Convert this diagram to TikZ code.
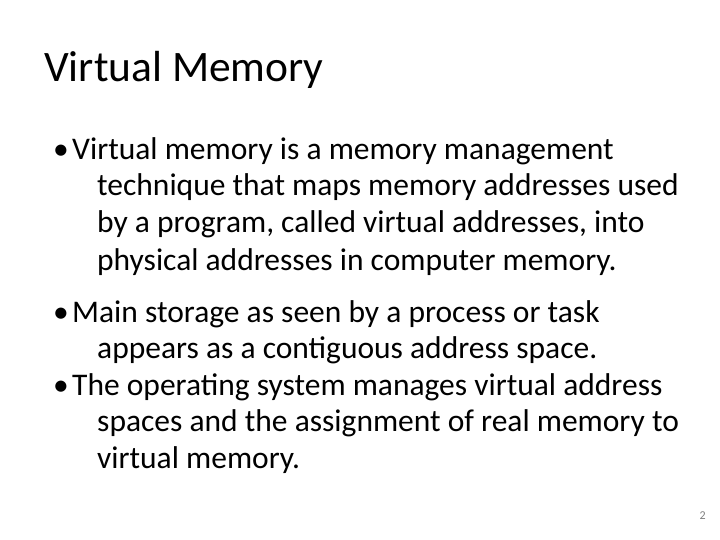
\documentclass[tikz,border=0pt]{standalone}
\usepackage{fontspec}
\setmainfont{Carlito}
\begin{document}
\begin{tikzpicture}[x=1pt,y=-1pt,
  body/.style={anchor=base west,inner sep=0pt,font=\fontsize{31.5}{33}\selectfont}]
\useasboundingbox[fill=white] (0,0) rectangle (720,540);
\node[anchor=base west,inner sep=0pt,font=\fontsize{43.5}{46}\selectfont] (title) at (44,82) {Virtual Memory};
\foreach \y/\n in {160/b1,322/b2,395/b3}{\node[body] (\n) at (53,\y) {•};}
\node[body] (l1) at (72,160) {Virtual memory is a memory management};
\node[body] (l2) at (97,196) {technique that maps memory addresses used};
\node[body] (l3) at (97,233) {by a program, called virtual addresses, into};
\node[body] (l4) at (97,270) {physical addresses in computer memory.};
\node[body] (l5) at (72,322) {Main storage as seen by a process or task};
\node[body] (l6) at (97,358) {appears as a contiguous address space.};
\node[body] (l7) at (72,395) {The operating system manages virtual address};
\node[body] (l8) at (97,431) {spaces and the assignment of real memory to};
\node[body] (l9) at (97,468) {virtual memory.};
\node[anchor=base east,inner sep=0pt,text=gray,font=\fontsize{12}{14}\selectfont] (pg) at (706,519) {2};
\end{tikzpicture}
\end{document}
